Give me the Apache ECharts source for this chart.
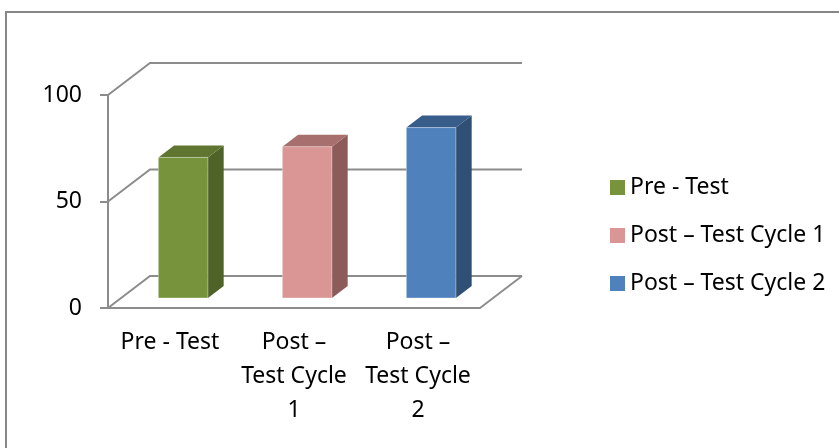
<!DOCTYPE html>
<html lang="en">
<head>
  <meta charset="UTF-8">
  <title>Pre / Post Test</title>
  <script src="https://cdn.jsdelivr.net/npm/echarts@6/dist/echarts.min.js"></script>
  <style>
    html, body { margin: 0; padding: 0; background: #fff; }
  </style>
</head>
<body>
  <div id="main" style="width: 839px; height: 448px;"></div>
  <script>
    // data
    var categories = ['Pre - Test', 'Post – Test Cycle 1', 'Post – Test Cycle 2'];
    var tickLabels = ['Pre - Test', 'Post –\nTest Cycle\n1', 'Post –\nTest Cycle\n2'];
    var values = [66, 71, 80];
    var yTicks = [0, 50, 100];

    // colours: front / top / side face
    var frontColors = ['#77933c', '#d99694', '#4f81bd'];
    var topColors = ['#5f7530', '#a7706e', '#385d8a'];
    var sideColors = ['#4f6228', '#8c5b5a', '#2f4f75'];

    // depth of the 3d box (px)
    var DX = 42, DY = -32;
    var FRONT = 10 / 32, BACK = 22 / 32; // where the bars sit inside the depth
    var GRID = '#8c8c8c';
    var LW = 2;
    var FONT = 'Noto Sans';

    var myChart = echarts.init(document.getElementById('main'));

    function renderWall(params, api) {
      var cs = params.coordSys;
      var y = api.coord([0, api.value(1)])[1];
      var left = cs.x, right = cs.x + cs.width;
      var children = [{
        type: 'polyline',
        shape: { points: [[left, y], [left + DX, y + DY], [right + DX, y + DY]] },
        style: { stroke: GRID, lineWidth: LW, fill: null }
      }];
      if (api.value(1) === 0) {
        children.push({
          type: 'line',
          shape: { x1: right, y1: y, x2: right + DX, y2: y + DY },
          style: { stroke: GRID, lineWidth: LW }
        });
      }
      return { type: 'group', children: children };
    }

    function makeBar(i) {
      return function (params, api) {
        var base = api.coord([api.value(0), 0]);
        var top = api.coord([api.value(0), api.value(1)]);
        var w = api.size([1, 0])[0] * 0.4;
        var sx = DX * FRONT, sy = DY * FRONT;
        var dx = DX * (BACK - FRONT), dy = DY * (BACK - FRONT);
        var x0 = base[0] - w / 2 + sx, x1 = base[0] + w / 2 + sx;
        var yT = top[1] + sy, yB = base[1] + sy;
        return {
          type: 'group',
          children: [
            {
              type: 'polygon',
              shape: { points: [[x1, yT], [x1 + dx, yT + dy], [x1 + dx, yB + dy], [x1, yB]] },
              style: { fill: sideColors[i] }
            },
            {
              type: 'polygon',
              shape: { points: [[x0, yT], [x1, yT], [x1 + dx, yT + dy], [x0 + dx, yT + dy]] },
              style: { fill: topColors[i] }
            },
            {
              type: 'rect',
              shape: { x: x0, y: yT, width: x1 - x0, height: yB - yT },
              style: { fill: api.visual('color'), stroke: 'rgba(255,255,255,0.35)', lineWidth: 1 }
            }
          ]
        };
      };
    }

    var series = [{
      type: 'custom',
      name: 'walls',
      clip: false,
      silent: true,
      z: 1,
      data: yTicks.map(function (v) { return [0, v]; }),
      renderItem: renderWall
    }];
    categories.forEach(function (name, i) {
      series.push({
        type: 'custom',
        name: name,
        clip: false,
        z: 3,
        itemStyle: { color: frontColors[i] },
        data: [[i, values[i]]],
        renderItem: makeBar(i)
      });
    });

    var option = {
      animation: false,
      backgroundColor: '#fff',
      textStyle: { fontFamily: FONT },
      graphic: [{
        type: 'rect',
        shape: { x: 6, y: 12, width: 900, height: 500 },
        style: { fill: null, stroke: '#868686', lineWidth: 2 },
        silent: true
      }],
      grid: { left: 108, right: 359, top: 95, bottom: 140 },
      legend: {
        data: categories,
        orient: 'vertical',
        left: 605,
        top: 171,
        icon: 'rect',
        itemWidth: 15,
        itemHeight: 15,
        itemGap: 25,
        textStyle: { fontFamily: FONT, fontSize: 23, color: '#000', lineHeight: 22 }
      },
      xAxis: {
        type: 'category',
        data: categories,
        axisLine: { lineStyle: { color: GRID, width: LW } },
        axisTick: { length: 6, lineStyle: { color: GRID, width: LW } },
        axisLabel: {
          interval: 0,
          hideOverlap: false,
          margin: 17,
          fontFamily: FONT,
          fontSize: 23,
          lineHeight: 34,
          color: '#000',
          formatter: function (v, i) { return tickLabels[i]; }
        }
      },
      yAxis: {
        type: 'value',
        min: 0,
        max: 100,
        interval: 50,
        axisLine: { show: true, lineStyle: { color: GRID, width: LW } },
        axisTick: { show: true, length: 8, lineStyle: { color: GRID, width: LW } },
        splitLine: { show: false },
        axisLabel: { margin: 26, fontFamily: FONT, fontSize: 23, color: '#000' }
      },
      series: series
    };

    myChart.setOption(option);
  </script>
</body>
</html>
